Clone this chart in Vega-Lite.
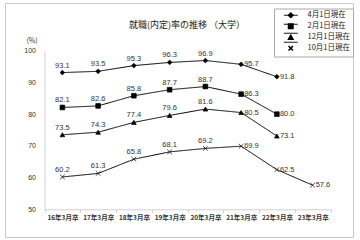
{
  "$schema": "https://vega.github.io/schema/vega-lite/v6.json",
  "width": 348,
  "height": 234,
  "autosize": {"type": "none"},
  "padding": {"left": 5, "top": 3, "right": 7, "bottom": 3},
  "background": "white",
  "config": {
    "view": {"stroke": "#c8c8c8", "strokeWidth": 1},
    "font": "Noto Sans CJK JP"
  },
  "title": {
    "text": "就職(内定)率の推移 （大学）",
    "fontSize": 9,
    "fontWeight": "normal",
    "color": "#222",
    "anchor": "middle",
    "frame": "group",
    "dx": 8,
    "offset": -31,
    "baseline": "middle"
  },
  "data": {
    "values": [
      {"s": "4月1日現在", "x": "16年3月卒", "v": 93.1},
      {"s": "4月1日現在", "x": "17年3月卒", "v": 93.5},
      {"s": "4月1日現在", "x": "18年3月卒", "v": 95.3},
      {"s": "4月1日現在", "x": "19年3月卒", "v": 96.3},
      {"s": "4月1日現在", "x": "20年3月卒", "v": 96.9},
      {"s": "4月1日現在", "x": "21年3月卒", "v": 95.7},
      {"s": "4月1日現在", "x": "22年3月卒", "v": 91.8},
      {"s": "2月1日現在", "x": "16年3月卒", "v": 82.1},
      {"s": "2月1日現在", "x": "17年3月卒", "v": 82.6},
      {"s": "2月1日現在", "x": "18年3月卒", "v": 85.8},
      {"s": "2月1日現在", "x": "19年3月卒", "v": 87.7},
      {"s": "2月1日現在", "x": "20年3月卒", "v": 88.7},
      {"s": "2月1日現在", "x": "21年3月卒", "v": 86.3},
      {"s": "2月1日現在", "x": "22年3月卒", "v": 80.0},
      {"s": "12月1日現在", "x": "16年3月卒", "v": 73.5},
      {"s": "12月1日現在", "x": "17年3月卒", "v": 74.3},
      {"s": "12月1日現在", "x": "18年3月卒", "v": 77.4},
      {"s": "12月1日現在", "x": "19年3月卒", "v": 79.6},
      {"s": "12月1日現在", "x": "20年3月卒", "v": 81.6},
      {"s": "12月1日現在", "x": "21年3月卒", "v": 80.5},
      {"s": "12月1日現在", "x": "22年3月卒", "v": 73.1},
      {"s": "10月1日現在", "x": "16年3月卒", "v": 60.2},
      {"s": "10月1日現在", "x": "17年3月卒", "v": 61.3},
      {"s": "10月1日現在", "x": "18年3月卒", "v": 65.8},
      {"s": "10月1日現在", "x": "19年3月卒", "v": 68.1},
      {"s": "10月1日現在", "x": "20年3月卒", "v": 69.2},
      {"s": "10月1日現在", "x": "21年3月卒", "v": 69.9},
      {"s": "10月1日現在", "x": "22年3月卒", "v": 62.5},
      {"s": "10月1日現在", "x": "23年3月卒", "v": 57.6}
    ]
  },
  "encoding": {
    "x": {
      "field": "x",
      "type": "nominal",
      "sort": ["16年3月卒", "17年3月卒", "18年3月卒", "19年3月卒", "20年3月卒", "21年3月卒", "22年3月卒", "23年3月卒"],
      "scale": {"type": "band", "domain": ["16年3月卒", "17年3月卒", "18年3月卒", "19年3月卒", "20年3月卒", "21年3月卒", "22年3月卒", "23年3月卒"], "range": [39.5, 325.5], "paddingInner": 0, "paddingOuter": 0},
      "axis": {
        "title": null,
        "orient": "bottom",
        "offset": -27.7,
        "labelAngle": 0,
        "labelFontSize": 6.5,
        "labelFontWeight": "bold",
        "labelColor": "#333",
        "labelPadding": 2,
        "tickBand": "extent",
        "tickSize": 3,
        "tickColor": "#d0d0d0",
        "domainColor": "#d0d0d0",
        "grid": false
      }
    },
    "y": {
      "field": "v",
      "type": "quantitative",
      "scale": {"domain": [50, 100], "range": [206.3, 47.7], "zero": false, "nice": false},
      "axis": {
        "title": "(%)",
        "titleAngle": 0,
        "titleX": -13,
        "titleY": 37,
        "titleAlign": "center",
        "titleBaseline": "middle",
        "titleFontSize": 7,
        "titleFontWeight": "normal",
        "titleColor": "#333",
        "offset": -39.5,
        "values": [50, 60, 70, 80, 90, 100],
        "ticks": false,
        "labelPadding": 9,
        "labelFontSize": 7,
        "labelFont": "Liberation Sans",
        "labelColor": "#333",
        "domainColor": "#d0d0d0",
        "grid": false
      }
    }
  },
  "layer": [
    {
      "mark": {"type": "line", "color": "black", "strokeWidth": 1},
      "encoding": {
        "strokeDash": {
          "field": "s",
          "type": "nominal",
          "scale": {"range": [[1, 0], [1, 0], [1, 0], [1, 0]]},
          "legend": {
            "orient": "none",
            "legendX": 269,
            "legendY": 5.5,
            "title": null,
            "padding": 3,
            "symbolType": "M-3.1,0H3.1",
            "symbolSize": 20,
            "symbolStrokeColor": "black",
            "symbolStrokeWidth": 1,
            "symbolOffset": 10,
            "labelOffset": 13,
            "rowPadding": 0,
            "labelFontSize": 7.5,
            "labelExpr": "''"
          }
        }
      }
    },
    {
      "mark": {"type": "point", "filled": true, "fill": "black", "stroke": "black", "strokeWidth": 0.7, "opacity": 1, "size": 22},
      "encoding": {
        "shape": {
          "field": "s",
          "type": "nominal",
          "scale": {
            "domain": ["4月1日現在", "2月1日現在", "12月1日現在", "10月1日現在"],
            "range": ["diamond", "square", "triangle-up", "M-1,-1L1,1M-1,1L1,-1"]
          },
          "legend": {
            "orient": "none",
            "legendX": 269,
            "legendY": 5.5,
            "title": null,
            "strokeColor": "#aaa",
            "padding": 3,
            "symbolSize": 20,
            "symbolOffset": 10,
            "labelOffset": 13,
            "rowPadding": 0,
            "labelFontSize": 7.5,
            "labelColor": "#222"
          }
        }
      }
    },
    {
      "transform": [{"filter": "indexof(['21年3月卒','22年3月卒','23年3月卒'], datum.x) < 0"}],
      "mark": {"type": "text", "dy": -5, "baseline": "alphabetic", "fontSize": 7.5, "font": "Liberation Sans", "color": "#333"},
      "encoding": {"text": {"field": "v", "type": "quantitative", "format": ".1f"}}
    },
    {
      "transform": [{"filter": "indexof(['21年3月卒','22年3月卒','23年3月卒'], datum.x) >= 0"}],
      "mark": {"type": "text", "dx": 3, "align": "left", "baseline": "middle", "fontSize": 7.5, "font": "Liberation Sans", "color": "#333"},
      "encoding": {"text": {"field": "v", "type": "quantitative", "format": ".1f"}}
    }
  ]
}
